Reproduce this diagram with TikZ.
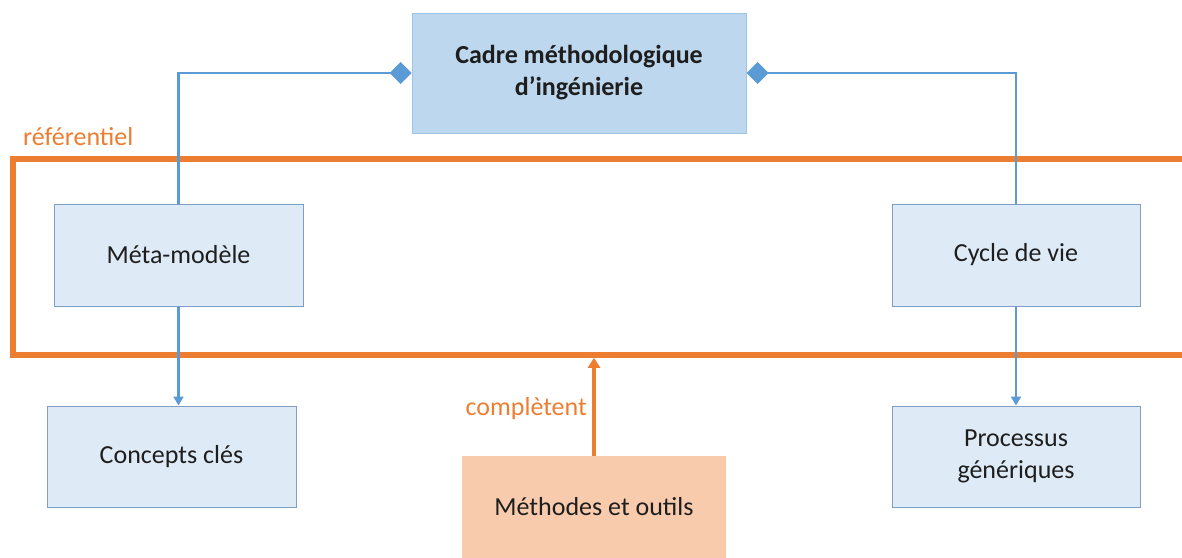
\documentclass[tikz,border=0pt]{standalone}
\usepackage{fontspec}
\setmainfont{Carlito}
\usetikzlibrary{arrows.meta}
\definecolor{boxfill}{HTML}{DEEBF7}
\definecolor{boxline}{HTML}{7F9EC6}
\definecolor{topfill}{HTML}{BDD7EE}
\definecolor{topline}{HTML}{9DC3E6}
\definecolor{connblue}{HTML}{5B9BD5}
\definecolor{orng}{HTML}{ED7D31}
\definecolor{peach}{HTML}{F8CBAD}
\definecolor{txt}{HTML}{1E1E1E}
\tikzset{
  lbox/.style={draw=boxline, line width=1pt, fill=boxfill, minimum width=249pt, minimum height=102pt, inner sep=0pt, align=center, text=txt, font=\fontsize{26}{32}\selectfont},
  topbox/.style={draw=topline, line width=1pt, fill=topfill, minimum width=334pt, minimum height=120pt, inner sep=0pt, align=center, text=txt, font=\fontsize{26}{32}\selectfont\bfseries},
  toolbox/.style={fill=peach, minimum width=264pt, minimum height=102pt, inner sep=0pt, align=center, text=txt, font=\fontsize{26}{32}\selectfont},
  frame/.style={draw=orng, line width=5.5pt, minimum width=1177pt, minimum height=196pt, inner sep=0pt},
  olabel/.style={text=orng, inner sep=0pt, font=\fontsize{26}{32}\selectfont},
  conn/.style={draw=connblue, line width=2.2pt},
  connarrow/.style={conn, -{Triangle[length=9pt,width=10pt]}},
  owner/.style={conn, {Diamond[length=22pt,width=22pt]}-},
  oarrow/.style={draw=orng, line width=3.5pt, -{Triangle[length=10pt,width=12pt]}}
}
\begin{document}
\begin{tikzpicture}[x=1pt,y=-1pt]
\useasboundingbox (0,0) rectangle (1182,557);
\clip (0,0) rectangle (1182,557);
\node[frame] (ref) at (601.5,257) {};
\node[topbox] (cadre) at (579,73) {Cadre méthodologique\\d’ingénierie};
\node[lbox] (meta) at (178.5,255) {Méta-modèle};
\node[lbox, minimum width=248pt] (cycle) at (1016,255) {Cycle de vie};
\node[lbox, minimum height=101pt] (concepts) at (171.5,456.5) {Concepts clés};
\node[lbox, minimum width=248pt, minimum height=101pt] (processus) at (1016,456.5) {Processus\\génériques};
\node[toolbox] (methodes) at (594,507) {Méthodes et outils};
\node[olabel, anchor=base west] (referentiel) at (23,145) {référentiel};
\node[olabel, anchor=base east] (completent) at (587,415) {complètent};
\draw[owner] (cadre.west) -| (meta.north);
\draw[owner] (cadre.east) -| (cycle.north);
\draw[connarrow] (meta.south) -- (meta.south |- concepts.north);
\draw[connarrow] (cycle.south) -- (processus.north);
\draw[oarrow] (methodes.north) -- (methodes.north |- ref.south);
\end{tikzpicture}
\end{document}
